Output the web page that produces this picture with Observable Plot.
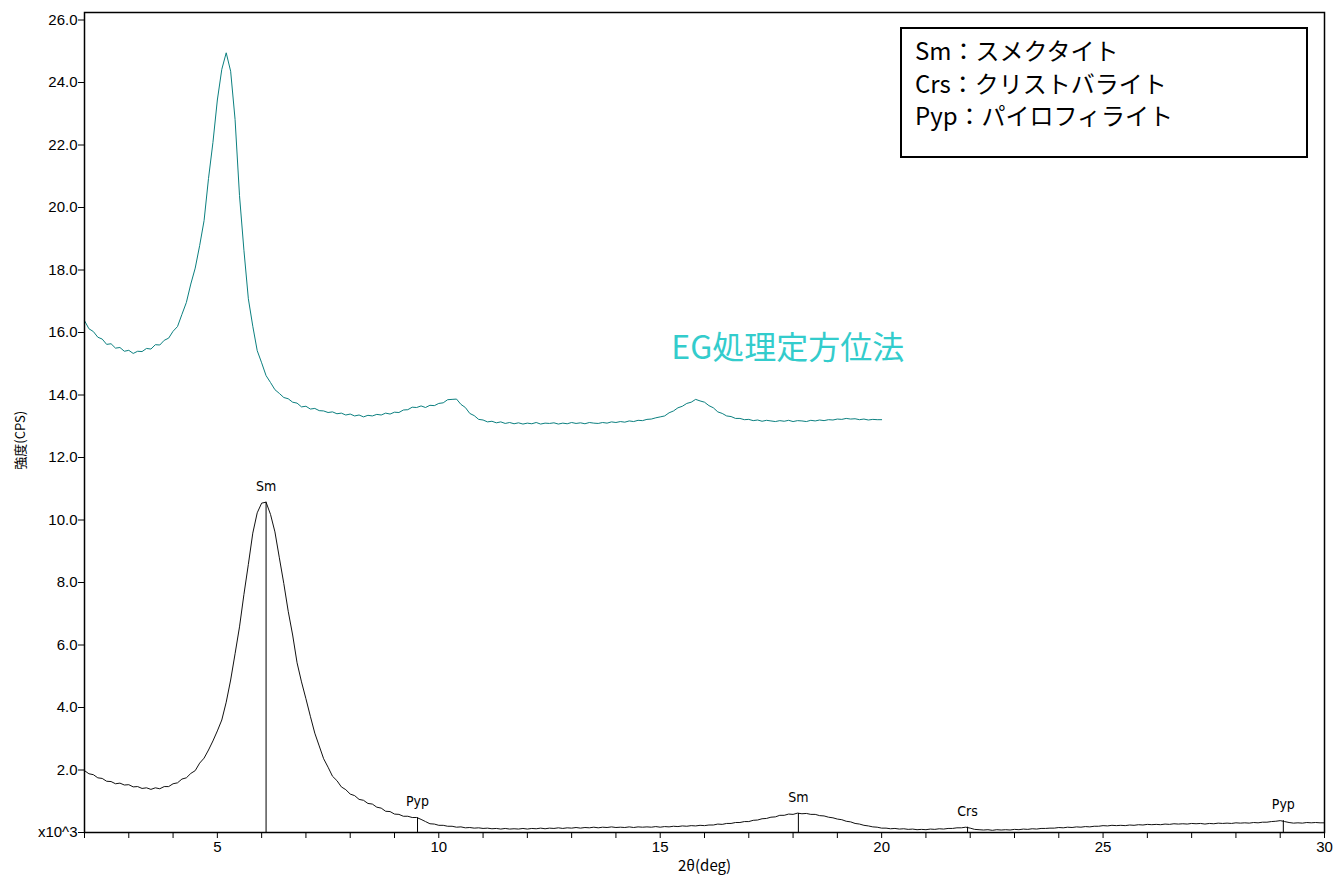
<!DOCTYPE html>
<html>
<head>
<meta charset="utf-8">
<script src="https://cdn.jsdelivr.net/npm/d3@7"></script>
<script src="https://cdn.jsdelivr.net/npm/@observablehq/plot@0.6"></script>
<style>
  html, body { margin: 0; padding: 0; background: #fff; }
  #wrap { position: relative; width: 1344px; height: 887px; }
  #legend {
    position: absolute; left: 900px; top: 27px; width: 404px; height: 127px;
    border: 2px solid #000; background: #fff; box-sizing: content-box;
    font-family: "Noto Sans CJK JP", "Noto Sans", sans-serif; font-size: 24px;
    line-height: 32.5px; padding: 0; color: #000;
  }
  #legend div { padding-left: 13px; white-space: nowrap; }
  #legend div:first-child { margin-top: 5px; }
</style>
</head>
<body>
<div id="wrap">
  <div id="chart"></div>
  <div id="legend">
    <div>Sm：スメクタイト</div>
    <div>Crs：クリストバライト</div>
    <div>Pyp：パイロフィライト</div>
  </div>
</div>
<script>
// Scan grid (2θ, deg)
const scanStart = 2.0;
const scanStep = 0.1;

// EG-treated oriented sample, intensity x10^3 CPS, 2.0–20.0 deg
const egIntensity = [
  16.38,16.12,16.03,15.85,15.79,15.62,15.64,15.50,15.52,15.40,
  15.43,15.33,15.40,15.39,15.49,15.47,15.61,15.60,15.75,15.82,
  16.04,16.19,16.58,16.96,17.55,18.06,18.78,19.58,20.93,22.08,
  23.44,24.42,24.95,24.36,22.82,20.38,18.63,17.08,16.20,15.42,
  15.03,14.62,14.40,14.17,14.05,13.92,13.88,13.77,13.74,13.62,
  13.64,13.55,13.57,13.50,13.49,13.44,13.46,13.40,13.42,13.36,
  13.39,13.33,13.36,13.30,13.35,13.33,13.38,13.36,13.42,13.39,
  13.45,13.44,13.52,13.53,13.61,13.60,13.65,13.60,13.67,13.66,
  13.73,13.75,13.85,13.86,13.87,13.70,13.60,13.41,13.34,13.22,
  13.20,13.14,13.16,13.11,13.14,13.09,13.12,13.08,13.11,13.07,
  13.10,13.08,13.12,13.07,13.10,13.09,13.11,13.07,13.10,13.08,
  13.12,13.09,13.11,13.08,13.12,13.10,13.09,13.12,13.10,13.14,
  13.12,13.15,13.13,13.17,13.15,13.19,13.18,13.22,13.23,13.27,
  13.30,13.33,13.43,13.49,13.59,13.64,13.73,13.77,13.86,13.81,
  13.77,13.66,13.59,13.46,13.41,13.33,13.31,13.25,13.25,13.21,
  13.22,13.18,13.20,13.16,13.19,13.17,13.15,13.18,13.16,13.19,
  13.15,13.18,13.17,13.15,13.19,13.17,13.20,13.18,13.21,13.20,
  13.23,13.22,13.25,13.23,13.24,13.21,13.23,13.20,13.22,13.21,
  13.21
];

// Untreated oriented sample, intensity x10^3 CPS, 2.0–30.0 deg
const rawIntensity = [
  1.98,1.88,1.85,1.75,1.73,1.64,1.63,1.56,1.58,1.52,
  1.53,1.46,1.47,1.41,1.43,1.38,1.43,1.40,1.47,1.47,
  1.56,1.59,1.71,1.75,1.89,1.98,2.22,2.38,2.64,2.93,
  3.25,3.60,4.17,4.88,5.72,6.58,7.62,8.58,9.58,10.23,
  10.54,10.57,10.18,9.62,8.79,7.97,7.08,6.32,5.43,4.82,
  4.28,3.72,3.18,2.77,2.36,2.09,1.80,1.66,1.46,1.37,
  1.23,1.18,1.06,1.03,0.93,0.91,0.81,0.78,0.68,0.67,
  0.59,0.58,0.52,0.52,0.48,0.48,0.42,0.35,0.28,0.27,
  0.23,0.23,0.20,0.20,0.17,0.18,0.15,0.16,0.14,0.15,
  0.13,0.14,0.12,0.13,0.11,0.13,0.11,0.12,0.11,0.13,
  0.11,0.13,0.12,0.14,0.12,0.14,0.13,0.15,0.13,0.15,
  0.14,0.16,0.14,0.16,0.15,0.17,0.15,0.17,0.16,0.18,
  0.16,0.17,0.16,0.18,0.16,0.18,0.17,0.18,0.17,0.19,
  0.17,0.19,0.18,0.20,0.19,0.21,0.20,0.22,0.21,0.23,
  0.22,0.24,0.24,0.27,0.26,0.29,0.29,0.32,0.32,0.35,
  0.35,0.39,0.40,0.44,0.45,0.49,0.50,0.55,0.55,0.59,
  0.58,0.62,0.60,0.61,0.58,0.58,0.54,0.53,0.49,0.47,
  0.43,0.41,0.36,0.34,0.29,0.27,0.23,0.21,0.18,0.17,
  0.14,0.14,0.12,0.13,0.11,0.12,0.10,0.11,0.09,0.10,
  0.09,0.11,0.10,0.12,0.11,0.13,0.13,0.15,0.15,0.17,
  0.14,0.10,0.09,0.08,0.09,0.07,0.09,0.08,0.09,0.08,
  0.10,0.09,0.11,0.10,0.12,0.11,0.13,0.13,0.14,0.14,
  0.16,0.15,0.17,0.16,0.18,0.17,0.19,0.18,0.20,0.20,
  0.22,0.21,0.23,0.22,0.23,0.22,0.24,0.23,0.25,0.24,
  0.26,0.25,0.26,0.25,0.27,0.26,0.28,0.27,0.28,0.27,
  0.29,0.28,0.29,0.27,0.29,0.28,0.30,0.29,0.30,0.29,
  0.31,0.30,0.31,0.30,0.32,0.31,0.33,0.33,0.35,0.36,
  0.38,0.35,0.32,0.30,0.31,0.30,0.32,0.31,0.32,0.31,
  0.31
];

// Peak identifications (untreated pattern)
const peakNames = ["Sm", "Pyp", "Sm", "Crs", "Pyp"];
const peakTheta = [6.1, 9.52, 18.12, 21.94, 29.07];
const peakHeight = [10.57, 0.47, 0.61, 0.17, 0.38];

// Annotation
const egLabel = "EG処理定方位法";
const egLabelTheta = 15.25;
const egLabelY = 15.49;

// Axis label positions (data units)
const yLabelAt = 12.55;

const xTicks = d3.range(2, 31, 1);
const yTicks = d3.range(0, 27, 2);

const eg = egIntensity.map((v, i) => ({x: +(scanStart + i * scanStep).toFixed(2), y: v}));
const raw = rawIntensity.map((v, i) => ({x: +(scanStart + i * scanStep).toFixed(2), y: v}));
const peaks = peakNames.map((n, i) => ({name: n, x: peakTheta[i], y: peakHeight[i]}));

const chart = Plot.plot({
  width: 1344,
  height: 887,
  marginLeft: 84,
  marginRight: 20,
  marginTop: 12,
  marginBottom: 55,
  style: {fontFamily: "'Liberation Sans', Arial, sans-serif", fontSize: "15px", color: "#000", background: "#fff"},
  x: {domain: [2, 30]},
  y: {domain: [0, 26.24]},
  marks: [
    Plot.axisX({ticks: xTicks, tickFormat: d => d % 5 === 0 ? String(d) : "", tickSize: 6, tickPadding: 3, label: null, stroke: "#000"}),
    Plot.axisY({ticks: yTicks, tickFormat: d => d === 0 ? "x10^3" : d.toFixed(1), tickSize: 6, tickPadding: 1, label: null, stroke: "#000"}),
    Plot.line(eg, {x: "x", y: "y", stroke: "#0b7f7f", strokeWidth: 1}),
    Plot.line(raw, {x: "x", y: "y", stroke: "#111", strokeWidth: 1}),
    Plot.ruleX(peaks, {x: "x", y1: 0, y2: "y", stroke: "#000", strokeWidth: 1}),
    Plot.text(peaks, {x: "x", y: "y", text: "name", dy: -16, fontSize: 14,
      fontFamily: "'Liberation Sans Narrow', 'DejaVu Sans Condensed', sans-serif", fill: "#000"}),
    Plot.text([egLabel], {x: egLabelTheta, y: egLabelY, text: d => d, textAnchor: "start",
      fontSize: 32, fill: "#33cccc", fontFamily: "'Noto Sans CJK JP', sans-serif"}),
    Plot.text(["2θ(deg)"], {text: d => d, frameAnchor: "bottom", dy: 38, fontSize: 15,
      fontFamily: "'Noto Sans CJK JP', sans-serif"}),
    Plot.text(["強度(CPS)"], {text: d => d, x: 2, y: yLabelAt, rotate: -90, dx: -64, fontSize: 13,
      fontFamily: "'Noto Sans CJK JP', sans-serif"}),
    Plot.frame({stroke: "#000", strokeWidth: 1.5})
  ]
});
document.getElementById("chart").appendChild(chart);
</script>
</body>
</html>
